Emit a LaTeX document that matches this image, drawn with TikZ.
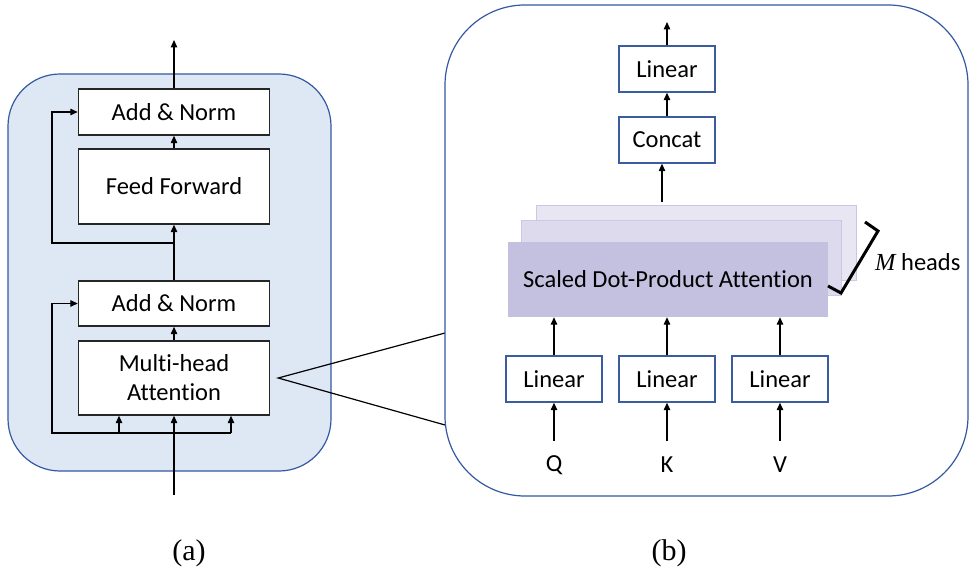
\documentclass[tikz,border=0pt]{standalone}
\usepackage{fontspec}
\setmainfont[Ligatures=NoCommon]{Carlito}
\newfontfamily\serifrm{Liberation Serif}
\usetikzlibrary{arrows.meta}

\definecolor{panelfill}{HTML}{DEE8F5}
\definecolor{panelline}{HTML}{3459A0}
\definecolor{boxline}{HTML}{3B5C9E}
\definecolor{headfront}{HTML}{C4C0DF}
\definecolor{headmid}{HTML}{DCDAEC}
\definecolor{headback}{HTML}{E8E6F3}
\definecolor{headedge}{HTML}{CBC7E4}

\tikzset{
  txt/.style={font=\fontsize{24.5}{29}\selectfont},
  blockL/.style={txt, draw=black!85, line width=1.4pt, fill=white, inner sep=0pt, align=center},
  blockR/.style={txt, draw=boxline, line width=1.4pt, fill=white, inner sep=0pt, align=center},
  flow/.style={line width=1.3pt, -{Triangle[length=7.5pt,width=6.5pt]}},
  plain/.style={line width=1.3pt},
  headlayer/.style={inner sep=0pt, minimum width=320pt, minimum height=75pt},
}

\begin{document}
\begin{tikzpicture}[x=1pt,y=-1pt]
  \useasboundingbox[fill=white] (0,0) rectangle (969,577);

  % ---------- (a) encoder layer ----------
  \draw[panelline, fill=panelfill, line width=1.2pt, rounded corners=52pt]
    (8,74) rectangle (331,471);

  \node[blockL, minimum width=191pt, minimum height=46pt] (an2) at (174,112) {Add \& Norm};
  \node[blockL, minimum width=191pt, minimum height=75pt] (ff)  at (174,186.5) {Feed Forward};
  \node[blockL, minimum width=191pt, minimum height=45pt] (an1) at (174,303.5) {Add \& Norm};
  \node[blockL, minimum width=191pt, minimum height=74pt] (mha) at (174,378) {Multi-head\\Attention};

  \coordinate (outA) at (174,40);
  \coordinate (inA)  at (174,495);
  \coordinate (resA) at (174,243);
  \coordinate (brA)  at (174,433);
  \coordinate (brL)  at (119,433);
  \coordinate (brR)  at (231,433);

  \draw[flow] (an2.north) -- (outA);
  \draw[flow] (ff.north) -- (an2.south);
  \draw[flow] (an1.north) -- (ff.south);
  \draw[flow] (mha.north) -- (an1.south);
  \draw[flow] (inA) -- (mha.south);
  \draw[flow] (resA) -- (52,243) |- (an2.west);
  \draw[flow] (brA) -- (52,433) |- (an1.west);
  \draw[plain] (brL) -- (brR);
  \draw[flow] (brL) -- (brL |- mha.south);
  \draw[flow] (brR) -- (brR |- mha.south);

  % zoom-out wedge
  \coordinate (tip) at ([xshift=8pt]mha.east);
  \coordinate (zTop) at (445,333);
  \coordinate (zBot) at (445,425);
  \draw[line width=1.2pt] (zTop) -- (tip) -- (zBot);

  % ---------- (b) multi-head attention ----------
  \draw[panelline, line width=1.2pt, rounded corners=80pt]
    (445,5) rectangle (968,496);

  \node[headlayer, fill=headback, draw=headedge, line width=1pt] (back) at (696,243.5) {};
  \node[headlayer, fill=headmid,  draw=headedge, line width=1pt] (mid)  at (681,258.5) {};
  \node[headlayer, fill=headfront, txt] (front) at (668,279.5) {Scaled Dot-Product Attention};

  \node[blockR, minimum width=96pt, minimum height=46pt] (linO) at (667,69) {Linear};
  \node[blockR, minimum width=96pt, minimum height=46pt] (cat)  at (667,140) {Concat};

  \node[blockR, minimum width=96pt, minimum height=46pt] (linQ) at (554,379) {Linear};
  \node[blockR, minimum width=96pt, minimum height=46pt] (linK) at (667,379) {Linear};
  \node[blockR, minimum width=96pt, minimum height=46pt] (linV) at (780,379) {Linear};

  \node[txt] (q) at (554,465) {Q};
  \node[txt] (k) at (667,465) {K};
  \node[txt] (v) at (780,465) {V};

  \coordinate (outB) at (667,22);
  \coordinate (stackTop) at (662,202);

  \draw[flow] (linO.north) -- (outB);
  \draw[flow] (cat.north) -- (linO.south);
  \draw[flow] (stackTop) -- (stackTop |- cat.south);

  \draw[flow] (linQ.north) -- (linQ.north |- front.south);
  \draw[flow] (linK.north) -- (linK.north |- front.south);
  \draw[flow] (linV.north) -- (linV.north |- front.south);

  \draw[flow] (q.north |- 0,441) -- (linQ.south);
  \draw[flow] (k.north |- 0,441) -- (linK.south);
  \draw[flow] (v.north |- 0,441) -- (linV.south);

  % head-count brace
  \coordinate (brTopEnd) at (865,222);
  \coordinate (brTopCorner) at (878,231);
  \coordinate (brBotCorner) at (841,293);
  \coordinate (brBotEnd) at (828,286);
  \draw[line width=3pt, line join=miter] (brTopEnd) -- (brTopCorner) -- (brBotCorner) -- (brBotEnd);
  \node[txt, anchor=west, inner sep=0pt] (heads) at (875,262) {{\serifrm\itshape M} heads};

  % captions
  \node[font=\serifrm\fontsize{30}{34}\selectfont] (capA) at (189,553) {(a)};
  \node[font=\serifrm\fontsize{30}{34}\selectfont] (capB) at (669,553) {(b)};
\end{tikzpicture}
\end{document}
